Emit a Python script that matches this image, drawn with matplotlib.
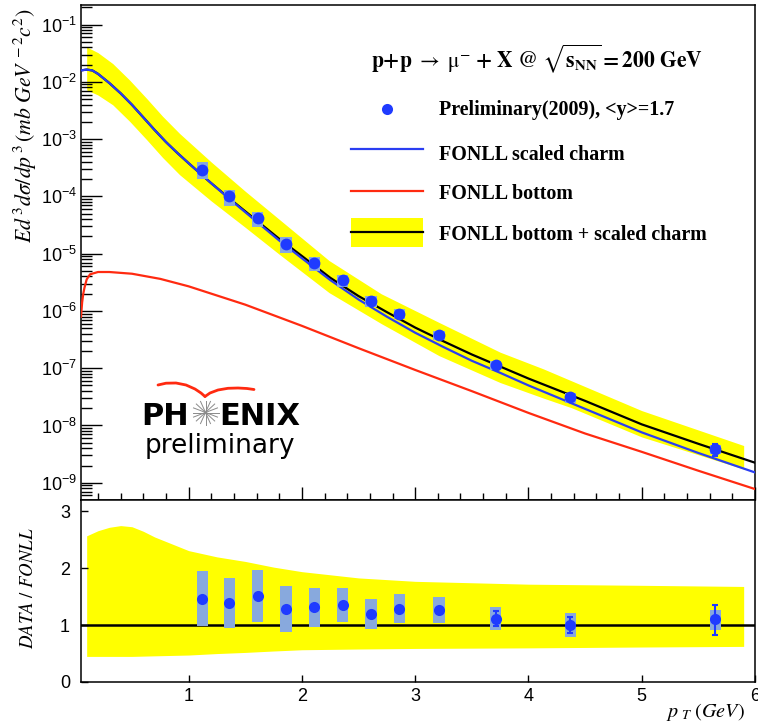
import numpy as np
import matplotlib
matplotlib.use('Agg')
import matplotlib.pyplot as plt
from matplotlib.patches import Rectangle
from matplotlib.lines import Line2D
from matplotlib.ticker import MultipleLocator, LogLocator, NullFormatter, FixedLocator

plt.rcParams['font.family'] = ['Liberation Sans', 'DejaVu Sans']
plt.rcParams['mathtext.fontset'] = 'custom'
plt.rcParams['mathtext.rm'] = 'Liberation Sans'
plt.rcParams['mathtext.it'] = 'Liberation Sans:italic'
plt.rcParams['mathtext.bf'] = 'Liberation Sans:bold'

# ---------------- data ----------------
pt = [1.12, 1.36, 1.61, 1.86, 2.11, 2.36, 2.61, 2.86, 3.21, 3.71, 4.37, 5.65]
yield_data = [2.95e-4, 1.0e-4, 4.2e-5, 1.48e-5, 6.8e-6, 3.45e-6, 1.5e-6, 8.9e-7,
              3.8e-7, 1.15e-7, 3.1e-8, 3.9e-9]
ratio = [1.46, 1.39, 1.52, 1.29, 1.31, 1.36, 1.20, 1.29, 1.27, 1.11, 1.01, 1.10]
syst_hi = [1.96, 1.83, 1.97, 1.69, 1.66, 1.66, 1.46, 1.55, 1.49, 1.31, 1.21, 1.27]
syst_lo = [0.98, 0.95, 1.05, 0.88, 0.97, 1.05, 0.93, 1.03, 1.04, 0.91, 0.80, 0.91]
stat_hi = [1.49, 1.42, 1.55, 1.32, 1.34, 1.39, 1.23, 1.32, 1.30, 1.24, 1.15, 1.36]
stat_lo = [1.43, 1.36, 1.49, 1.26, 1.28, 1.33, 1.17, 1.26, 1.24, 0.98, 0.86, 0.83]

# FONLL scaled charm (log10)
charm_pt = [0.05, 0.1, 0.15, 0.2, 0.3, 0.4, 0.5, 0.6, 0.7, 0.8, 0.9, 1.0, 1.2, 1.4,
            1.6, 1.8, 2.0, 2.25, 2.5, 2.75, 3.0, 3.25, 3.5, 3.75, 4.0, 4.5, 5.0, 5.5, 6.0]
charm_log = [-1.80, -1.785, -1.80, -1.86, -2.02, -2.20, -2.40, -2.62, -2.84, -3.05, -3.24,
             -3.42, -3.77, -4.11, -4.44, -4.77, -5.08, -5.46, -5.80, -6.10, -6.38, -6.63,
             -6.87, -7.08, -7.30, -7.71, -8.12, -8.48, -8.82]
# FONLL bottom (log10)
bottom_pt = [0.05, 0.06, 0.07, 0.08, 0.1, 0.13, 0.2, 0.3, 0.5, 0.75, 1.0, 1.5, 2.0, 2.5,
             3.0, 3.5, 4.0, 4.5, 5.0, 5.5, 6.0]
bottom_log = [-6.10, -5.85, -5.70, -5.60, -5.45, -5.36, -5.32, -5.32, -5.35, -5.44, -5.57,
              -5.89, -6.26, -6.65, -7.03, -7.40, -7.78, -8.14, -8.46, -8.79, -9.11]
# FONLL bottom + scaled charm (log10)
sum_pt = [0.05, 0.1, 0.15, 0.2, 0.3, 0.4, 0.5, 0.6, 0.7, 0.8, 0.9, 1.0, 1.2, 1.4,
          1.6, 1.8, 2.0, 2.25, 2.5, 2.75, 3.0, 3.25, 3.5, 3.75, 4.0, 4.5, 5.0, 5.5, 6.0]
sum_log = [-1.80, -1.785, -1.80, -1.86, -2.02, -2.20, -2.40, -2.62, -2.84, -3.05, -3.24,
           -3.42, -3.77, -4.10, -4.42, -4.74, -5.04, -5.42, -5.74, -6.02, -6.29, -6.53,
           -6.76, -6.97, -7.18, -7.57, -7.98, -8.32, -8.65]
# uncertainty band of the sum (log10)
band_pt = [0.1, 0.2, 0.33, 0.48, 0.63, 0.77, 0.92, 1.2, 1.5, 1.8, 2.24, 2.7, 3.21,
           3.75, 4.13, 4.38, 5.0, 5.9]
band_hi_log = [-1.39, -1.49, -1.68, -1.97, -2.29, -2.60, -2.90, -3.40, -3.91, -4.40,
               -5.12, -5.70, -6.20, -6.72, -7.01, -7.22, -7.74, -8.35]
band_lo_log = [-2.14, -2.23, -2.40, -2.69, -3.01, -3.32, -3.62, -4.08, -4.54, -5.01,
               -5.68, -6.22, -6.78, -7.25, -7.52, -7.69, -8.20, -8.76]
# ratio-panel band
rband_pt = [0.1, 0.2, 0.3, 0.4, 0.5, 0.6, 0.7, 0.85, 1.0, 1.25, 1.5, 1.75, 2.0, 2.5,
            3.0, 4.0, 5.0, 5.9]
rband_hi = [2.57, 2.66, 2.72, 2.75, 2.73, 2.65, 2.55, 2.43, 2.31, 2.20, 2.12, 2.02,
            1.94, 1.83, 1.77, 1.72, 1.70, 1.68]
rband_lo = [0.45, 0.45, 0.45, 0.45, 0.45, 0.455, 0.46, 0.467, 0.474, 0.50, 0.52, 0.545,
            0.567, 0.58, 0.59, 0.60, 0.615, 0.626]

legend_labels = ['Preliminary(2009), <y>=1.7', 'FONLL scaled charm',
                 'FONLL bottom', 'FONLL bottom + scaled charm']

# ---------------- style ----------------
YEL = '#ffff00'
BLUE_PT = '#1f3bff'
BOX = '#88a9dd'
BLUE_LN = '#2a3ef2'
RED = '#ff2a10'

W, H = 758, 726
fig = plt.figure(figsize=(W / 100, H / 100), dpi=100)


def fx(px):
    return px / W


def fy(py):
    return 1 - py / H


ax = fig.add_axes([fx(81), fy(500), (755 - 81) / W, (500 - 5) / H])
axr = fig.add_axes([fx(81), fy(682), (755 - 81) / W, (682 - 500) / H])

# ---------------- top panel ----------------
ax.set_yscale('log')
ax.fill_between(band_pt, 10 ** np.array(band_lo_log), 10 ** np.array(band_hi_log),
                color=YEL, lw=0, zorder=1)
ax.plot(bottom_pt, 10 ** np.array(bottom_log), color=RED, lw=1.6, zorder=3)
ax.plot(sum_pt, 10 ** np.array(sum_log), color='black', lw=1.6, zorder=3)
ax.plot(charm_pt, 10 ** np.array(charm_log), color=BLUE_LN, lw=1.6, zorder=4)

bw = 0.1
for p, y, r, lo, hi in zip(pt, yield_data, ratio, syst_lo, syst_hi):
    ax.add_patch(Rectangle((p - bw / 2, y * lo / r), bw, y * (hi - lo) / r,
                           facecolor=BOX, edgecolor='none', zorder=5))
for p, y, r, lo, hi in zip(pt, yield_data, ratio, stat_lo, stat_hi):
    if (hi - lo) / r > 0.15:
        ax.errorbar([p], [y], yerr=[[y - y * lo / r], [y * hi / r - y]], fmt='none',
                    ecolor=BLUE_PT, elinewidth=1.5, capsize=2.5, capthick=1.5, zorder=6)
ax.plot(pt, yield_data, 'o', color=BLUE_PT, ms=8.5, mec='none', zorder=7)

ax.set_xlim(0.05, 6)
ax.set_ylim(5e-10, 0.22)
ax.xaxis.set_major_locator(MultipleLocator(1))
ax.xaxis.set_minor_locator(MultipleLocator(0.2))
ax.yaxis.set_major_locator(LogLocator(base=10, numticks=20))
ax.yaxis.set_minor_locator(LogLocator(base=10, subs=np.arange(2, 10), numticks=20))
ax.yaxis.set_minor_formatter(NullFormatter())
ax.tick_params(axis='x', which='both', direction='in', bottom=True, top=False,
               labelbottom=False)
ax.tick_params(axis='x', which='major', length=9.5, width=1.0)
ax.tick_params(axis='x', which='minor', length=5, width=1.0)
ax.tick_params(axis='y', which='both', direction='in', left=True, right=False,
               labelsize=13, pad=3)
ax.tick_params(axis='y', which='major', length=15, width=1.0)
ax.tick_params(axis='y', which='minor', length=8, width=1.0)
for s in ax.spines.values():
    s.set_linewidth(1.1)

# ---------------- ratio panel ----------------
axr.fill_between(rband_pt, rband_lo, rband_hi, color=YEL, lw=0, zorder=1)
axr.axhline(1.0, color='black', lw=1.8, zorder=3)
for p, lo, hi in zip(pt, syst_lo, syst_hi):
    axr.add_patch(Rectangle((p - bw / 2, lo), bw, hi - lo,
                            facecolor=BOX, edgecolor='none', zorder=4))
for p, r, lo, hi in zip(pt, ratio, stat_lo, stat_hi):
    if hi - lo > 0.15:
        axr.errorbar([p], [r], yerr=[[r - lo], [hi - r]], fmt='none', ecolor=BLUE_PT,
                     elinewidth=1.5, capsize=2.5, capthick=1.5, zorder=5)
axr.plot(pt, ratio, 'o', color=BLUE_PT, ms=8, mec='none', zorder=6)
axr.set_xlim(0.05, 6)
axr.set_ylim(0, 3.2)
axr.xaxis.set_major_locator(FixedLocator([1, 2, 3, 4, 5, 6]))
axr.yaxis.set_major_locator(FixedLocator([0, 1, 2, 3]))
axr.tick_params(axis='both', which='major', direction='in', length=5, width=1.0,
                labelsize=13, top=False, right=False)
axr.tick_params(axis='x', pad=4)
axr.tick_params(axis='y', pad=8)
for s in axr.spines.values():
    s.set_linewidth(1.1)

# ---------------- axis titles ----------------
fig.text(fx(25), fy(8), r'$Ed^{\,3}d\sigma/dp^{\,3}\,(mb\ GeV^{\,-2}c^{2})$', rotation=90,
         ha='center', va='top', fontsize=15.7, math_fontfamily='stix')
fig.text(fx(28), fy(588), r'$DATA\ /\ FONLL$', rotation=90, ha='center', va='center',
         fontsize=13.5, math_fontfamily='stix')
fig.text(fx(745), fy(712), r'$p_{\ T}\ (GeV)$', ha='right', va='center', fontsize=14.5,
         math_fontfamily='stix')

# ---------------- title & legend ----------------
fig.text(fx(371), fy(67),
         r'$\mathbf{p{+}p}\ \rightarrow\ \mathrm{\mu}^{-}\ \mathbf{{+}\ X\ @\ }\sqrt{\mathbf{s}_{\mathbf{NN}}}\mathbf{{=}200\ GeV}$',
         ha='left', va='baseline', fontsize=15.5, math_fontfamily='stix')

lx0, lx1, tx = 351, 423, 439
fig.add_artist(Line2D([fx(387)], [fy(109)], marker='o', color=BLUE_PT, ms=8, mec='none',
                      transform=fig.transFigure))
fig.add_artist(Line2D([fx(lx0), fx(lx1)], [fy(149), fy(149)], color=BLUE_LN, lw=1.6,
                      transform=fig.transFigure))
fig.add_artist(Line2D([fx(lx0), fx(lx1)], [fy(191), fy(191)], color=RED, lw=1.6,
                      transform=fig.transFigure))
fig.add_artist(Rectangle((fx(lx0), fy(247)), fx(lx1) - fx(lx0), fy(218) - fy(247),
                         facecolor=YEL, edgecolor='none', transform=fig.transFigure))
fig.add_artist(Line2D([fx(lx0), fx(lx1)], [fy(232), fy(232)], color='black', lw=1.6,
                      transform=fig.transFigure))
for lab, yb in zip(legend_labels, [114.5, 159.5, 199.5, 240.5]):
    fig.text(fx(tx), fy(yb), lab, ha='left', va='baseline', fontsize=14.4,
             family='Liberation Serif', weight='bold')

# ---------------- PHENIX logo ----------------
fig.text(fx(189), fy(425), 'PH', ha='right', va='baseline', fontsize=22,
         family='DejaVu Sans', weight='bold')
fig.text(fx(219), fy(425), 'ENIX', ha='left', va='baseline', fontsize=22,
         family='DejaVu Sans', weight='bold')
fig.text(fx(220), fy(453), 'preliminary', ha='center', va='baseline', fontsize=19,
         family='DejaVu Sans')
cx, cy = 205.5, 412.5
for a in np.linspace(0, np.pi, 9)[:-1]:
    dx, dy = 13 * np.cos(a), 12 * np.sin(a)
    fig.add_artist(Line2D([fx(cx - dx), fx(cx + dx)], [fy(cy - dy), fy(cy + dy)],
                          color='#8a8a8a', lw=0.7, transform=fig.transFigure))
wing_l = ([158, 166, 176, 186, 195, 201, 205], [385, 383.2, 383, 385, 389, 393, 396.5])
wing_r = ([205, 210, 218, 228, 238, 247, 254], [396.5, 393, 390, 388.3, 388, 388.5, 389.5])
for xs, ys in (wing_l, wing_r):
    fig.add_artist(Line2D([fx(v) for v in xs], [fy(v) for v in ys], color=RED, lw=2.0,
                          solid_capstyle='round', transform=fig.transFigure))

fig.savefig('out.png', dpi=100)
